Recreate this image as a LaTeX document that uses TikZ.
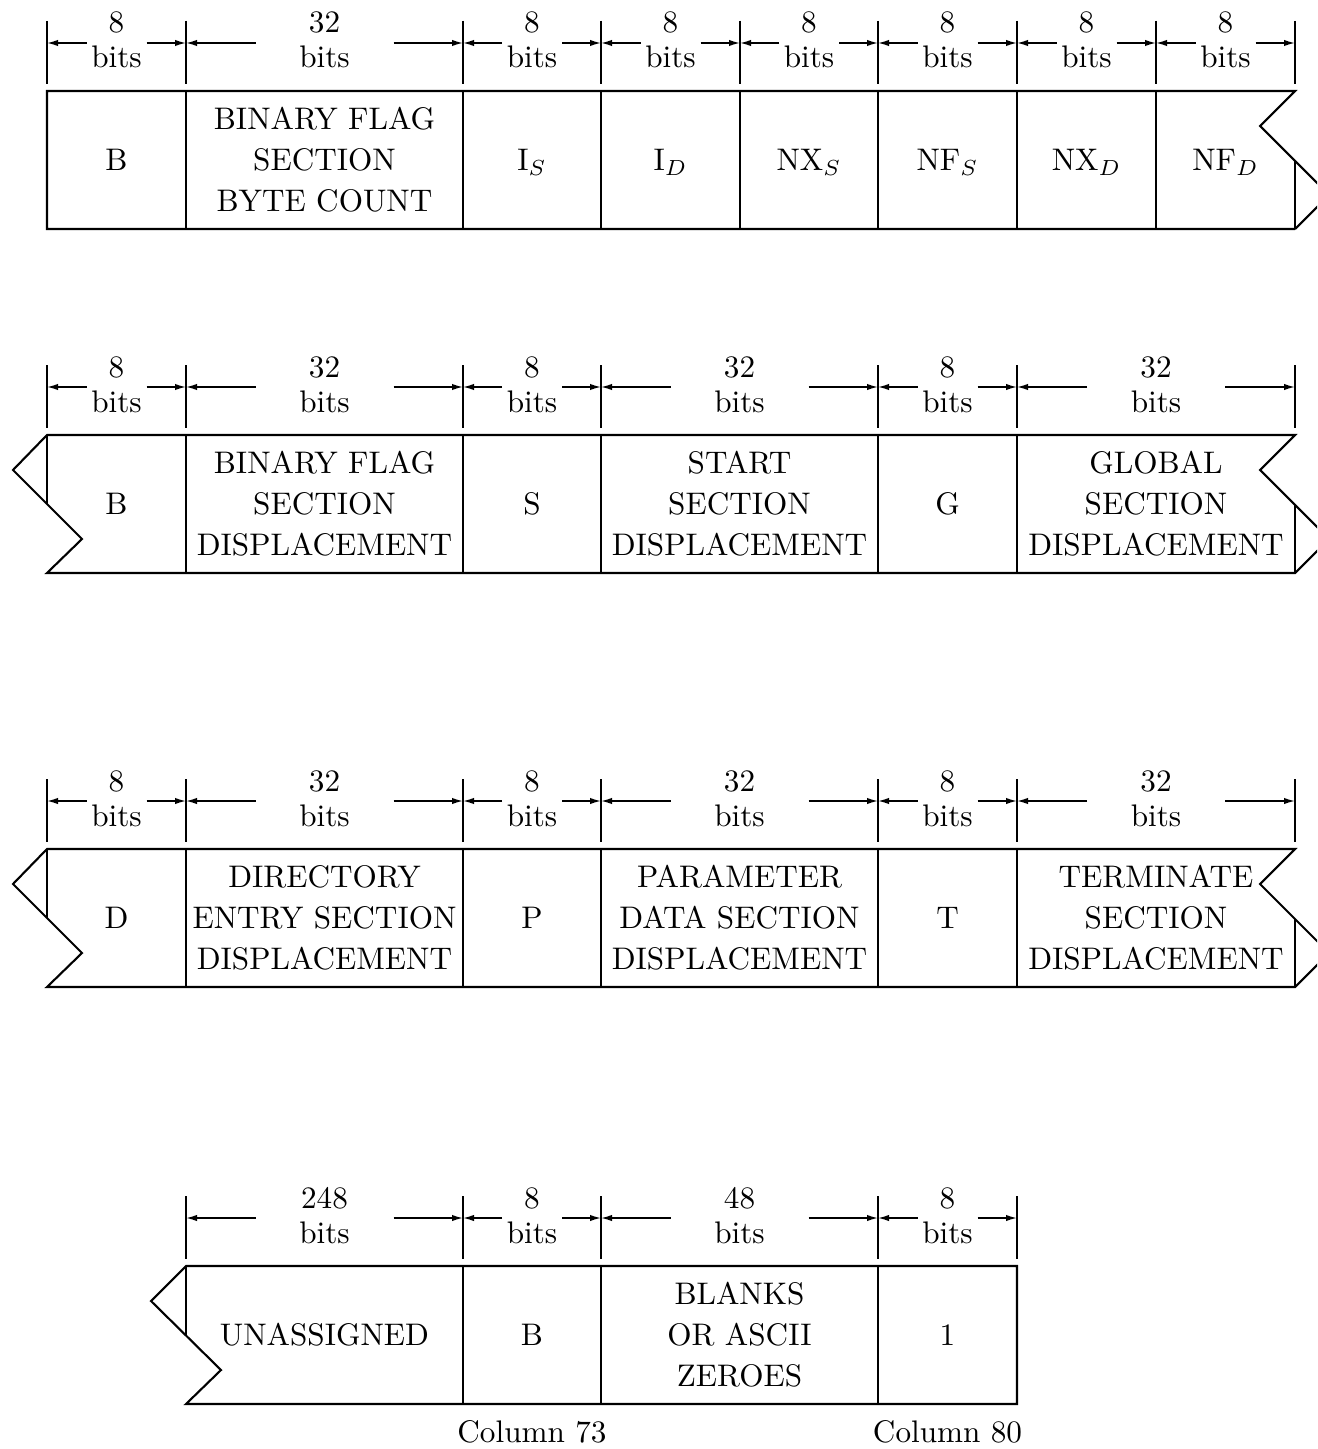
\RequirePackage{fix-cm}
\documentclass[tikz,border=0pt]{standalone}
\usepackage{graphicx}
\usetikzlibrary{arrows.meta}
\newcommand\boxtxt[1]{\scalebox{1.56}{\fontsize{10}{13.14}\selectfont\begin{tabular}{@{}c@{}}#1\end{tabular}}}
\newcommand\dtxt[1]{\scalebox{1.56}{\fontsize{10}{12}\selectfont #1}}
\begin{document}
\begin{tikzpicture}[x=0.5pt,y=-0.5pt,
  box/.style={line width=1.05pt, line join=miter},
  divider/.style={line width=0.9pt},
  dimtick/.style={line width=0.75pt},
  dimarrow/.style={line width=0.75pt,-{Latex[length=5.5pt,width=3.2pt]}},
  lbl/.style={inner sep=0pt},
  dimtxt/.style={inner sep=0pt, anchor=base}]
\clip (0,0) rectangle (1317,1449);

% ---------- dimension lines ----------
\foreach \xa/\xb/\num/\g/\T [count=\i] in {
  47/186/8/30/91, 186/463/32/69/91, 463/601/8/30/91, 601/740/8/30/91,
  740/878/8/30/91, 878/1017/8/30/91, 1017/1156/8/30/91, 1156/1295/8/30/91,
  47/186/8/30/435, 186/463/32/69/435, 463/601/8/30/435, 601/878/32/69/435,
  878/1017/8/30/435, 1017/1295/32/69/435,
  47/186/8/30/849, 186/463/32/69/849, 463/601/8/30/849, 601/878/32/69/849,
  878/1017/8/30/849, 1017/1295/32/69/849,
  186/463/248/69/1266, 463/601/8/30/1266, 601/878/48/69/1266, 878/1017/8/30/1266}
{
  \pgfmathsetmacro\c{(\xa+\xb)/2}
  \draw[dimtick] (\xa,\T-70) -- (\xa,\T-7);
  \draw[dimtick] (\xb,\T-70) -- (\xb,\T-7);
  \node[dimtxt] (num\i) at (\c,\T-58) {\dtxt{\num}};
  \node[dimtxt] (bits\i) at (\c,\T-23) {\dtxt{bits}};
  \coordinate (la\i) at (\c-\g,\T-48);
  \coordinate (lb\i) at (\xa,\T-48);
  \coordinate (ra\i) at (\c+\g,\T-48);
  \coordinate (rb\i) at (\xb,\T-48);
  \draw[dimarrow] (la\i) -- (lb\i);
  \draw[dimarrow] (ra\i) -- (rb\i);
}

% ---------- row 1 ----------
\draw[box] (1295,229) -- (47,229) -- (47,91) -- (1295,91) -- (1260,126) -- (1329,195) -- (1295,229);
\draw[box] (1295,161) -- (1295,229);
\foreach \x in {186,463,601,740,878,1017,1156} \draw[divider] (\x,91) -- (\x,229);
\node[lbl] (r1a) at (116.5,162.5) {\boxtxt{B}};
\node[lbl] (r1b) at (324.5,162.5) {\boxtxt{BINARY FLAG\\SECTION\\BYTE COUNT}};
\node[lbl] (r1c) at (532,162.5) {\boxtxt{I$_S$}};
\node[lbl] (r1d) at (670.5,162.5) {\boxtxt{I$_D$}};
\node[lbl] (r1e) at (809,162.5) {\boxtxt{NX$_S$}};
\node[lbl] (r1f) at (947.5,162.5) {\boxtxt{NF$_S$}};
\node[lbl] (r1g) at (1086.5,162.5) {\boxtxt{NX$_D$}};
\node[lbl] (r1h) at (1225.5,162.5) {\boxtxt{NF$_D$}};

% ---------- row 2 ----------
\draw[box] (47,435) -- (1295,435) -- (1260,470) -- (1329,539) -- (1295,573) -- (47,573) -- (82,539) -- (13,470) -- cycle;
\draw[box] (47,435) -- (47,504);
\draw[box] (1295,505) -- (1295,573);
\foreach \x in {186,463,601,878,1017} \draw[divider] (\x,435) -- (\x,573);
\node[lbl] (r2a) at (116.5,506.5) {\boxtxt{B}};
\node[lbl] (r2b) at (324.5,506.5) {\boxtxt{BINARY FLAG\\SECTION\\DISPLACEMENT}};
\node[lbl] (r2c) at (532,506.5) {\boxtxt{S}};
\node[lbl] (r2d) at (739.5,506.5) {\boxtxt{START\\SECTION\\DISPLACEMENT}};
\node[lbl] (r2e) at (947.5,506.5) {\boxtxt{G}};
\node[lbl] (r2f) at (1156,506.5) {\boxtxt{GLOBAL\\SECTION\\DISPLACEMENT}};

% ---------- row 3 ----------
\draw[box] (47,849) -- (1295,849) -- (1260,884) -- (1329,953) -- (1295,987) -- (47,987) -- (82,953) -- (13,884) -- cycle;
\draw[box] (47,849) -- (47,918);
\draw[box] (1295,919) -- (1295,987);
\foreach \x in {186,463,601,878,1017} \draw[divider] (\x,849) -- (\x,987);
\node[lbl] (r3a) at (116.5,920.5) {\boxtxt{D}};
\node[lbl] (r3b) at (324.5,920.5) {\boxtxt{DIRECTORY\\ENTRY SECTION\\DISPLACEMENT}};
\node[lbl] (r3c) at (532,920.5) {\boxtxt{P}};
\node[lbl] (r3d) at (739.5,920.5) {\boxtxt{PARAMETER\\DATA SECTION\\DISPLACEMENT}};
\node[lbl] (r3e) at (947.5,920.5) {\boxtxt{T}};
\node[lbl] (r3f) at (1156,920.5) {\boxtxt{TERMINATE\\SECTION\\DISPLACEMENT}};

% ---------- row 4 ----------
\draw[box] (186,1266) -- (1017,1266) -- (1017,1404) -- (186,1404) -- (221,1370) -- (151,1301) -- cycle;
\draw[box] (186,1266) -- (186,1335);
\foreach \x in {463,601,878} \draw[divider] (\x,1266) -- (\x,1404);
\node[lbl] (r4a) at (324.5,1337.5) {\boxtxt{UNASSIGNED}};
\node[lbl] (r4b) at (532,1337.5) {\boxtxt{B}};
\node[lbl] (r4c) at (739.5,1337.5) {\boxtxt{BLANKS\\OR ASCII\\ZEROES}};
\node[lbl] (r4d) at (947.5,1337.5) {\boxtxt{1}};

\node[dimtxt] (col73) at (532,1442) {\dtxt{Column 73}};
\node[dimtxt] (col80) at (947.5,1442) {\dtxt{Column 80}};
\end{tikzpicture}
\end{document}
